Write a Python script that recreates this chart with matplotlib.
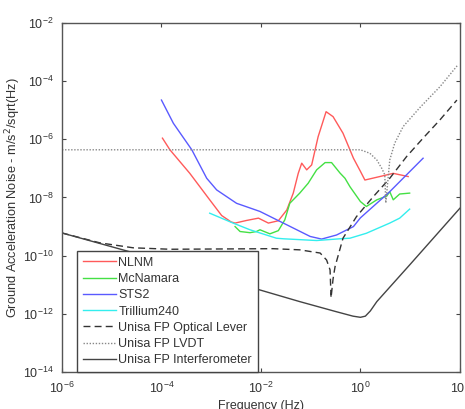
import numpy as np
import matplotlib
matplotlib.use('Agg')
import matplotlib.pyplot as plt

plt.rcParams['font.family'] = ['Liberation Sans', 'DejaVu Sans']

# values, as log10(frequency) / log10(acceleration noise)
nlnm_lf = [-3.98, -3.83, -3.43, -3.03, -2.79, -2.6, -2.52, -2.29, -2.05, -1.85, -1.65, -1.48,
           -1.35, -1.25, -1.18, -1.08, -0.98, -0.85, -0.69, -0.55, -0.35, -0.14, 0.0, 0.09,
           0.39, 0.66, 0.96]
nlnm_la = [-5.96, -6.36, -7.17, -8.08, -8.62, -8.84, -8.88, -8.79, -8.71, -8.88, -8.80, -8.43,
           -7.85, -7.17, -6.82, -7.05, -6.88, -5.91, -5.05, -5.22, -5.79, -6.65, -7.1, -7.40,
           -7.28, -7.17, -7.28]

mcn_lf = [-2.52, -2.42, -2.22, -2.09, -2.02, -1.82, -1.65, -1.52, -1.42, -1.22, -1.05, -0.88,
          -0.71, -0.58, -0.41, -0.31, -0.21, -0.14, 0.0, 0.12, 0.33, 0.53, 0.59, 0.66, 0.79, 0.99]
mcn_la = [-9.0, -9.17, -9.21, -9.17, -9.11, -9.25, -9.14, -8.77, -8.20, -7.85, -7.51, -7.05,
          -6.80, -6.80, -7.16, -7.34, -7.63, -7.80, -8.14, -8.31, -8.08, -7.95, -7.80, -8.08,
          -7.88, -7.85]

sts2_lf = [-4.0, -3.76, -3.39, -3.09, -2.89, -2.49, -2.02, -1.55, -1.01, -0.78, -0.48, -0.14,
           0.0, 0.59, 1.26]
sts2_la = [-4.65, -5.45, -6.36, -7.34, -7.74, -8.20, -8.48, -8.88, -9.34, -9.43, -9.29, -9.0,
           -8.70, -7.80, -6.65]

tril_lf = [-3.03, -2.56, -2.22, -1.69, -1.55, -0.88, -0.41, -0.21, 0.12, 0.59, 0.79, 0.99]
tril_la = [-8.54, -8.88, -9.11, -9.40, -9.42, -9.48, -9.42, -9.40, -9.23, -8.88, -8.71, -8.40]

olev_lf = [-6.0, -5.24, -4.57, -3.83, -1.76, -1.22, -0.81, -0.68, -0.61, -0.59, -0.55, -0.51,
           -0.35, -0.08, 0.26, 0.59, 0.93, 1.26, 1.60, 1.94]
olev_la = [-9.22, -9.56, -9.73, -9.78, -9.76, -9.80, -9.91, -10.15, -10.49, -11.45, -10.8,
           -10.38, -9.40, -8.66, -7.97, -7.34, -6.59, -5.96, -5.33, -4.65]

lvdt_lf = [-6.0, 0.0, 0.19, 0.33, 0.43, 0.49, 0.51, 0.56, 0.59, 0.69, 0.86, 1.2, 1.6, 1.96]
lvdt_la = [-6.36, -6.36, -6.48, -6.71, -7.0, -7.22, -8.19, -7.28, -6.71, -6.13, -5.56, -4.9,
           -4.19, -3.44]

ifo_lf = [-6.0, -4.63, -2.42, -1.22, -0.5, -0.15, 0.0, 0.1, 0.2, 0.33, 1.0, 2.0]
ifo_la = [-9.22, -9.87, -10.98, -11.58, -11.92, -12.08, -12.12, -12.08, -11.9, -11.58, -10.3, -8.37]

labels = ['NLNM', 'McNamara', 'STS2', 'Trillium240',
          'Unisa FP Optical Lever', 'Unisa FP LVDT', 'Unisa FP Interferometer']

txt = '#333333'

fig = plt.figure(figsize=(4.65, 4.09), dpi=100)
ax = fig.add_axes([0.1333, 0.0905, 0.8557, 0.8533])

def p(lf, la):
    return 10.0 ** np.array(lf), 10.0 ** np.array(la)

ax.plot(*p(nlnm_lf, nlnm_la), color='#ff5a5a', lw=1.0, label=labels[0])
ax.plot(*p(mcn_lf, mcn_la), color='#44e044', lw=1.0, label=labels[1])
ax.plot(*p(sts2_lf, sts2_la), color='#5a5aff', lw=1.0, label=labels[2])
ax.plot(*p(tril_lf, tril_la), color='#33eeee', lw=1.0, label=labels[3])
ax.plot(*p(olev_lf, olev_la), color='#333333', lw=1.0, ls=(0, (5, 3)), label=labels[4])
ax.plot(*p(lvdt_lf, lvdt_la), color='#888888', lw=1.0, ls=(0, (1, 1.2)), label=labels[5])
ax.plot(*p(ifo_lf, ifo_la), color='#444444', lw=1.0, label=labels[6])

ax.set_xscale('log')
ax.set_yscale('log')
ax.set_xlim(1e-6, 1e2)
ax.set_ylim(1e-14, 1e-2)
ax.set_xticks([1e-6, 1e-4, 1e-2, 1e0, 1e2])
ax.set_yticks([1e-14, 1e-12, 1e-10, 1e-8, 1e-6, 1e-4, 1e-2])
ax.minorticks_off()
ax.tick_params(direction='in', top=True, right=True, length=3, width=0.8,
               color='#444444', labelcolor=txt, labelsize=9, pad=6)
for s in ax.spines.values():
    s.set_color('#555555')
    s.set_linewidth(1.0)

ax.set_xlabel('Frequency (Hz)', fontsize=9, color=txt, labelpad=3)
ax.set_ylabel('Ground Acceleration Noise - m/s$^2$/sqrt(Hz)', fontsize=9.2, color=txt)
ax.yaxis.set_label_coords(-0.097, 0.5)

leg = ax.legend(loc='lower left', bbox_to_anchor=(0.038, 0.0), borderaxespad=0.0,
                fancybox=False, frameon=True, framealpha=1.0, fontsize=9, handlelength=2.7,
                handletextpad=0.15, labelspacing=0.34, borderpad=0.45, labelcolor=txt)
leg.get_frame().set_edgecolor('#444444')
leg.get_frame().set_linewidth(1.0)

fig.savefig('out.png', dpi=100)
